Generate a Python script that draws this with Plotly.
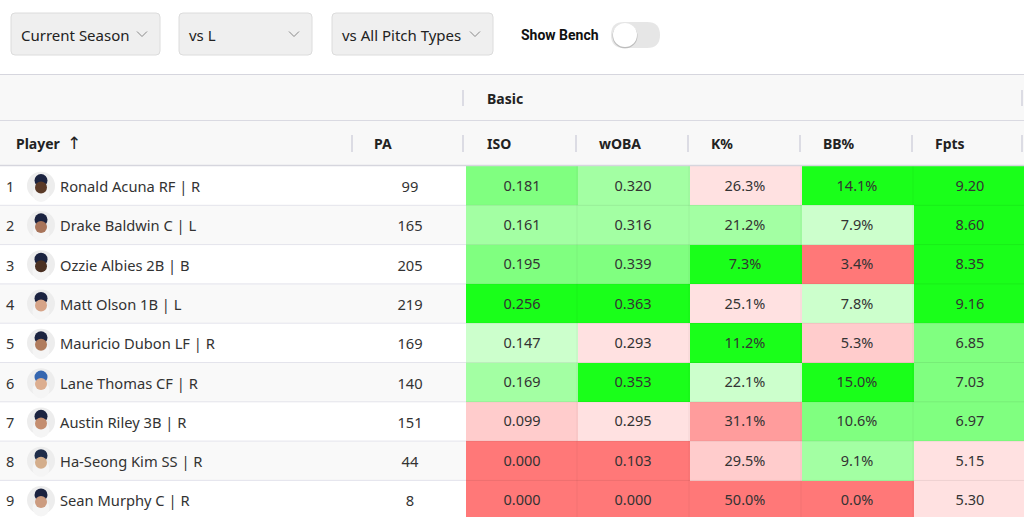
import plotly.graph_objects as go

# ---- data ----
ranks = [1, 2, 3, 4, 5, 6, 7, 8, 9]
players = [
    "Ronald Acuna RF | R",
    "Drake Baldwin C | L",
    "Ozzie Albies 2B | B",
    "Matt Olson 1B | L",
    "Mauricio Dubon LF | R",
    "Lane Thomas CF | R",
    "Austin Riley 3B | R",
    "Ha-Seong Kim SS | R",
    "Sean Murphy C | R",
]
pa = [99, 165, 205, 219, 169, 140, 151, 44, 8]
iso = [0.181, 0.161, 0.195, 0.256, 0.147, 0.169, 0.099, 0.000, 0.000]
woba = [0.320, 0.316, 0.339, 0.363, 0.293, 0.353, 0.295, 0.103, 0.000]
k_pct = [26.3, 21.2, 7.3, 25.1, 11.2, 22.1, 31.1, 29.5, 50.0]
bb_pct = [14.1, 7.9, 3.4, 7.8, 5.3, 15.0, 10.6, 9.1, 0.0]
fpts = [9.20, 8.60, 8.35, 9.16, 6.85, 7.03, 6.97, 5.15, 5.30]

# shade tier of every cell as seen in the picture (0 = deepest red ... 7 = deepest green)
iso_tier = [6, 5, 6, 7, 4, 5, 2, 0, 0]
woba_tier = [5, 5, 6, 7, 3, 7, 3, 0, 0]
k_tier = [3, 5, 7, 3, 7, 4, 1, 2, 0]
bb_tier = [7, 4, 0, 4, 2, 7, 6, 5, 0]
fpts_tier = [7, 7, 7, 7, 6, 6, 6, 3, 3]

stat_labels = ["ISO", "wOBA", "K%", "BB%", "Fpts"]
filters = ["Current Season", "vs L", "vs All Pitch Types"]

# ---- styling ----
W, H = 1024, 517
ROW_H = 39.3
BODY_TOP = 166
TXT_NUDGE = 0.07   # scatter text sits a little high, push it down to the row centre
tier_colors = ["#ff7878", "#ff9c9c", "#ffcccc", "#ffe1e1",
               "#ccffcc", "#a3ffa3", "#80ff80", "#1aff1a"]
col_edges = [466, 577, 689, 801, 913, 1026]
skin = ["#5a3a28", "#a8745a", "#4a3022", "#d6a488", "#b07c5e",
        "#dcae90", "#c48e70", "#d4ae8c", "#cc9c80"]
cap = ["#1b2340", "#1b2340", "#1b2340", "#1b2340", "#1b2340",
       "#3566b0", "#1b2340", "#1f2d4a", "#1b2340"]
FONT = "Noto Sans, Open Sans, sans-serif"
rows = list(range(len(players)))


def py(p):
    # pixel row from the top -> paper fraction
    return 1 - p / H


def rrect(x0, y0, x1, y1, r):
    return (f"M {x0 + r},{py(y0)} L {x1 - r},{py(y0)} Q {x1},{py(y0)} {x1},{py(y0 + r)} "
            f"L {x1},{py(y1 - r)} Q {x1},{py(y1)} {x1 - r},{py(y1)} "
            f"L {x0 + r},{py(y1)} Q {x0},{py(y1)} {x0},{py(y1 - r)} "
            f"L {x0},{py(y0 + r)} Q {x0},{py(y0)} {x0 + r},{py(y0)} Z")


fig = go.Figure()

# striped background of the player part of each row
fig.add_trace(go.Heatmap(
    x=[0, col_edges[0]], y=rows, z=[[i % 2] for i in rows],
    colorscale=[[0, "#ffffff"], [1, "#f9f9f9"]], showscale=False,
    hoverinfo="skip", zmin=0, zmax=1,
))

# coloured stat cells
tiers = [iso_tier, woba_tier, k_tier, bb_tier, fpts_tier]
texts = [
    [f"{v:.3f}" for v in iso],
    [f"{v:.3f}" for v in woba],
    [f"{v:.1f}%" for v in k_pct],
    [f"{v:.1f}%" for v in bb_pct],
    [f"{v:.2f}" for v in fpts],
]
n = len(tier_colors)
cscale = []
for k, c in enumerate(tier_colors):
    cscale += [[k / n, c], [(k + 1) / n, c]]
fig.add_trace(go.Heatmap(
    x=col_edges, y=rows,
    z=[[t[i] for t in tiers] for i in rows],
    text=[[t[i] for t in texts] for i in rows],
    texttemplate="%{text}", textfont=dict(size=14.5, color="#333333", family=FONT),
    colorscale=cscale, zmin=-0.5, zmax=n - 0.5, showscale=False, hoverinfo="skip",
))

# rank, avatar, name, PA
ty = [r + TXT_NUDGE for r in rows]
fig.add_trace(go.Scatter(
    x=[6] * len(rows), y=ty, mode="text", text=[str(r) for r in ranks],
    textposition="middle right", textfont=dict(size=14.5, color="#333333"), hoverinfo="skip",
))
fig.add_trace(go.Scatter(
    x=[41] * len(rows), y=rows, mode="markers",
    marker=dict(size=28, color="#ededed"), hoverinfo="skip",
))
fig.add_trace(go.Scatter(
    x=[41] * len(rows), y=[r + 0.2 for r in rows], mode="markers",
    marker=dict(size=17, color="#f5f5f5", symbol="circle"), hoverinfo="skip",
))
fig.add_trace(go.Scatter(
    x=[41] * len(rows), y=[r - 0.13 for r in rows], mode="markers",
    marker=dict(size=13, color=cap), hoverinfo="skip",
))
fig.add_trace(go.Scatter(
    x=[41] * len(rows), y=[r + 0.05 for r in rows], mode="markers",
    marker=dict(size=12, color=skin), hoverinfo="skip",
))
fig.add_trace(go.Scatter(
    x=[60] * len(rows), y=ty, mode="text", text=players,
    textposition="middle right", textfont=dict(size=14.7, color="#333333"), hoverinfo="skip",
))
fig.add_trace(go.Scatter(
    x=[410] * len(rows), y=ty, mode="text", text=[str(v) for v in pa],
    textposition="middle center", textfont=dict(size=14.7, color="#333333"), hoverinfo="skip",
))

shapes = []
annotations = []

# grid lines of the body
for i in rows[1:]:
    shapes.append(dict(type="line", xref="x", yref="y", x0=0, x1=col_edges[0],
                       y0=i - 0.5, y1=i - 0.5, line=dict(color="#e4e4ec", width=1)))
    shapes.append(dict(type="line", xref="x", yref="y", x0=col_edges[0], x1=W,
                       y0=i - 0.5, y1=i - 0.5, line=dict(color="rgba(0,0,0,0.07)", width=1)))
for xe in col_edges[1:-1]:
    shapes.append(dict(type="line", xref="x", yref="y", x0=xe, x1=xe, y0=-0.5, y1=len(rows) - 0.5,
                       line=dict(color="rgba(0,0,0,0.05)", width=1)))

# header block
shapes.append(dict(type="rect", xref="x", yref="paper", x0=0, x1=W, y0=py(165.5), y1=py(74),
                   fillcolor="#f8f8f8", line=dict(width=0), layer="below"))
for yy, cc, ww in [(74.5, "#d6d6de", 1), (120.5, "#dadae2", 1), (165.5, "#d6d6de", 1.5)]:
    shapes.append(dict(type="line", xref="x", yref="paper", x0=0, x1=W, y0=py(yy), y1=py(yy),
                       line=dict(color=cc, width=ww)))
for xb in [352, 463, 576, 688, 800, 912, 1022]:
    shapes.append(dict(type="line", xref="x", yref="paper", x0=xb, x1=xb, y0=py(135), y1=py(152),
                       line=dict(color="#dcdce4", width=2)))
for xb in [463, 1022]:
    shapes.append(dict(type="line", xref="x", yref="paper", x0=xb, x1=xb, y0=py(90), y1=py(106),
                       line=dict(color="#dcdce4", width=2)))

hdr = dict(xref="x", yref="paper", showarrow=False, xanchor="left", yanchor="middle",
           font=dict(size=14, color="#222222", family=FONT))
annotations.append(dict(x=485, y=py(98), text="<b>Basic</b>", **hdr))
annotations.append(dict(x=14, y=py(143), text="<b>Player</b>", **hdr))
annotations.append(dict(x=65, y=py(143), text="\u2191", xref="x", yref="paper", showarrow=False,
                        xanchor="left", yanchor="middle",
                        font=dict(size=17, color="#222222", family="DejaVu Sans")))
annotations.append(dict(x=372, y=py(143), text="<b>PA</b>", **hdr))
for lbl, xl in zip(stat_labels, [485, 597, 709, 821, 933]):
    annotations.append(dict(x=xl, y=py(143), text=f"<b>{lbl}</b>", **hdr))

# filter dropdowns
boxes = [(11, 160), (179, 312), (332, 493)]
for lbl, (x0, x1) in zip(filters, boxes):
    shapes.append(dict(type="path", xref="x", yref="paper", path=rrect(x0, 13, x1, 55, 4),
                       fillcolor="#efefef", line=dict(color="#dcdcdc", width=1)))
    cx = x1 - 18
    shapes.append(dict(type="path", xref="x", yref="paper",
                       path=f"M {cx - 5},{py(31.5)} L {cx},{py(36.5)} L {cx + 5},{py(31.5)}",
                       line=dict(color="#888888", width=1)))
    annotations.append(dict(x=x0 + 8, y=py(35), text=lbl, xref="x", yref="paper", showarrow=False,
                            xanchor="left", yanchor="middle",
                            font=dict(size=15, color="#222222", family=FONT)))

annotations.append(dict(x=519, y=py(35), text="<b>Show Bench</b>", xref="x", yref="paper",
                        showarrow=False, xanchor="left", yanchor="middle",
                        font=dict(size=14, color="#111111", family="Roboto")))
# toggle
shapes.append(dict(type="path", xref="x", yref="paper", path=rrect(611, 22, 660, 48, 13),
                   fillcolor="#e6e6e6", line=dict(width=0)))
shapes.append(dict(type="circle", xref="x", yref="paper", x0=612.5, x1=637.5, y0=py(48.5), y1=py(23.5),
                   fillcolor="rgba(0,0,0,0.18)", line=dict(width=0)))
shapes.append(dict(type="circle", xref="x", yref="paper", x0=613, x1=637, y0=py(47), y1=py(23),
                   fillcolor="#ffffff", line=dict(width=0)))

fig.update_layout(
    width=W, height=H,
    margin=dict(l=0, r=0, t=0, b=0),
    paper_bgcolor="#ffffff", plot_bgcolor="#ffffff",
    font=dict(family=FONT, size=14, color="#333333"),
    showlegend=False,
    xaxis=dict(range=[0, W], visible=False, fixedrange=True),
    yaxis=dict(range=[-0.5 + (H - BODY_TOP) / ROW_H, -0.5], domain=[0, py(BODY_TOP)],
               visible=False, fixedrange=True),
    shapes=shapes, annotations=annotations,
)

fig.write_html("out.html", config={"displayModeBar": False},
               post_script="document.body.style.margin='0';")
